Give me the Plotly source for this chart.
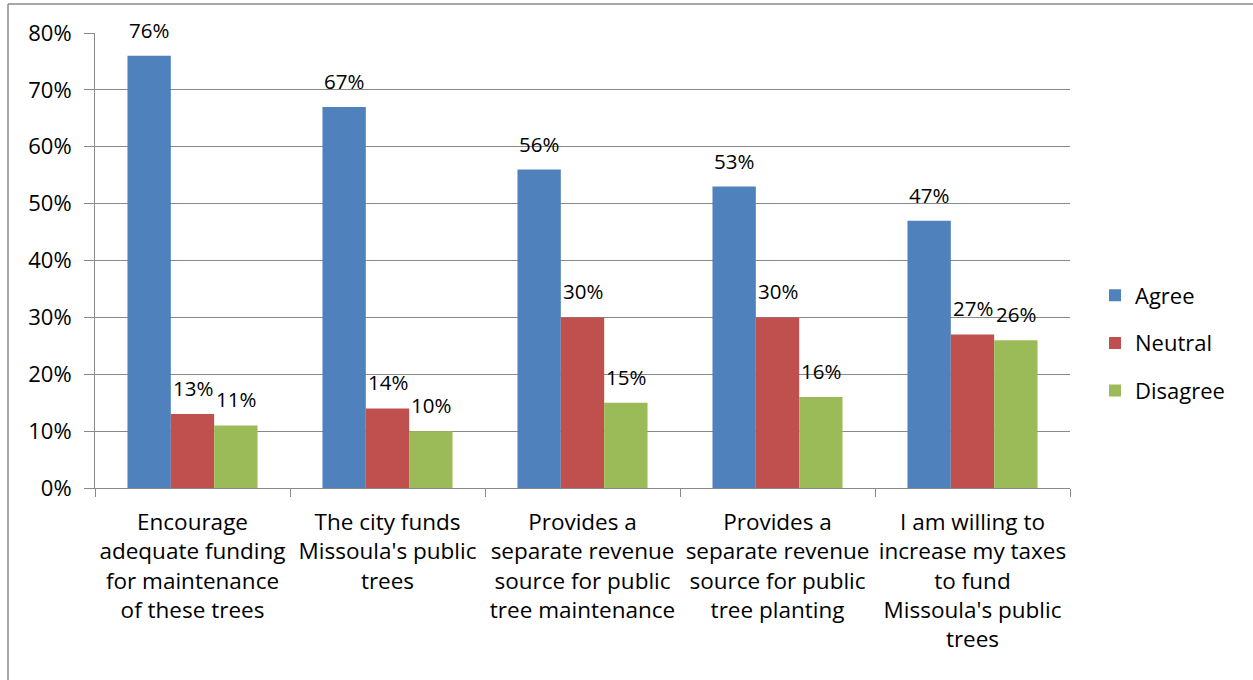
import plotly.graph_objects as go

categories = [
    "Encourage<br>adequate funding<br>for maintenance<br>of these trees",
    "The city funds<br>Missoula's public<br>trees",
    "Provides a<br>separate revenue<br>source for public<br>tree maintenance",
    "Provides a<br>separate revenue<br>source for public<br>tree planting",
    "I am willing to<br>increase my taxes<br>to fund<br>Missoula's public<br>trees",
]
agree = [0.76, 0.67, 0.56, 0.53, 0.47]
neutral = [0.13, 0.14, 0.30, 0.30, 0.27]
disagree = [0.11, 0.10, 0.15, 0.16, 0.26]

series = [("Agree", agree, "#4F81BD"), ("Neutral", neutral, "#C0504D"), ("Disagree", disagree, "#9BBB59")]

FONT = "Open Sans"
GRID = "#898989"
BARGAP = 0.333

W, H = 1253, 680
L, R, T, B = 95, 1070, 33, 488

fig = go.Figure()
for i, (name, vals, col) in enumerate(series):
    fig.add_trace(go.Bar(
        x=categories, y=vals, name=name, marker_color=col,
        marker_line_width=0, legendgroup=name,
    ))

annotations = []
bw = (1 - BARGAP) / len(series)
for i, (name, vals, col) in enumerate(series):
    off = (i - (len(series) - 1) / 2) * bw
    for j, v in enumerate(vals):
        annotations.append(dict(
            x=j + off, y=v, xref="x", yref="y", text=f"{round(v*100)}%",
            showarrow=False, yanchor="middle", yshift=26,
            font=dict(family=FONT, size=20.5, color="black"),
        ))

def px(xp):
    return (xp - L) / (R - L)

def py(yp):
    return (B - yp) / (B - T)

shapes = [
    dict(type="line", xref="paper", yref="paper", x0=px(8), x1=px(8), y0=py(4), y1=py(680),
         line=dict(color="#8a8a8a", width=1.5)),
    dict(type="line", xref="paper", yref="paper", x0=px(8), x1=px(1253), y0=py(4), y1=py(4),
         line=dict(color="#8a8a8a", width=1.5)),
]

fig.update_layout(
    width=W, height=H,
    margin=dict(l=L, r=W - R, t=T, b=H - B, pad=0, autoexpand=False),
    barmode="group", bargap=BARGAP, bargroupgap=0,
    plot_bgcolor="white", paper_bgcolor="white",
    font=dict(family=FONT, color="black"),
    showlegend=True,
    legend=dict(
        x=px(1095), y=py(343), xanchor="left", yanchor="middle",
        font=dict(family=FONT, size=22, color="black"),
        traceorder="grouped", tracegroupgap=16, itemwidth=30,
        bgcolor="rgba(0,0,0,0)",
    ),
    annotations=annotations,
    shapes=shapes,
)
fig.update_xaxes(
    showline=True, linecolor=GRID, linewidth=1,
    ticks="outside", tickson="boundaries", ticklen=8, tickcolor=GRID,
    tickfont=dict(family=FONT, size=22.5, color="black"),
    tickangle=0, automargin=False,
    ticklabelstandoff=14,
    showgrid=False,
)
fig.update_yaxes(
    range=[0, 0.8], dtick=0.1, tick0=0, tickformat=".0%",
    showline=True, linecolor=GRID, linewidth=1,
    ticks="outside", ticklen=10, tickcolor=GRID,
    ticklabelstandoff=8, automargin=False,
    showgrid=True, gridcolor=GRID, gridwidth=1,
    tickfont=dict(family=FONT, size=22, color="black"),
    zeroline=False,
)
fig.write_html("out.html")
